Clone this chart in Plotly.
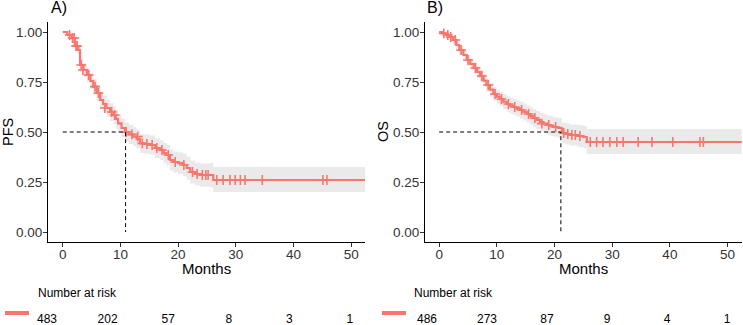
import plotly.graph_objects as go

# ---------------- data ----------------
pfs_t  = [0, 0.8, 1.6, 2.1, 2.7, 3.0, 3.6, 4.2, 4.8, 5.3, 5.9, 6.5, 7.0, 7.6, 8.2, 8.8, 9.2, 9.6, 10.2, 10.8, 11.5, 12.2, 12.8, 13.4, 14.2, 15.1, 16.0, 16.9, 17.5, 18.0, 18.6, 19.2, 20.0, 20.9, 21.5, 22.1, 23.0, 23.8, 25.5, 26.1, 52.4]
pfs_s  = [1.0, 0.985, 0.97, 0.93, 0.91, 0.835, 0.81, 0.785, 0.755, 0.727, 0.695, 0.66, 0.64, 0.62, 0.60, 0.585, 0.565, 0.543, 0.52, 0.50, 0.488, 0.477, 0.465, 0.443, 0.44, 0.435, 0.42, 0.41, 0.395, 0.385, 0.36, 0.35, 0.345, 0.335, 0.32, 0.30, 0.29, 0.285, 0.285, 0.26, 0.26]
pfs_lo = [1.0, 0.975, 0.955, 0.91, 0.885, 0.80, 0.775, 0.748, 0.716, 0.687, 0.654, 0.618, 0.597, 0.576, 0.555, 0.539, 0.518, 0.496, 0.472, 0.452, 0.44, 0.429, 0.417, 0.395, 0.391, 0.386, 0.37, 0.359, 0.344, 0.333, 0.307, 0.296, 0.29, 0.279, 0.263, 0.242, 0.232, 0.226, 0.224, 0.20, 0.20]
pfs_hi = [1.0, 0.995, 0.985, 0.95, 0.935, 0.865, 0.843, 0.82, 0.792, 0.766, 0.735, 0.70, 0.682, 0.663, 0.644, 0.629, 0.61, 0.588, 0.566, 0.547, 0.535, 0.524, 0.513, 0.49, 0.488, 0.483, 0.469, 0.459, 0.445, 0.436, 0.412, 0.403, 0.398, 0.39, 0.376, 0.357, 0.348, 0.343, 0.345, 0.325, 0.325]
pfs_cens_t = [1.2, 1.7, 2.0, 2.3, 2.5, 3.2, 3.5, 4.5, 5.6, 6.2, 7.3, 8.5, 9.0, 11.0, 12.0, 13.0, 13.8, 14.6, 15.5, 16.3, 17.2, 18.3, 19.5, 21.0, 22.5, 23.3, 24.2, 24.8, 25.2, 26.7, 27.8, 29.0, 29.9, 30.8, 31.6, 34.6, 45.1, 45.8]
pfs_cens_s = [0.985, 0.97, 0.97, 0.93, 0.93, 0.835, 0.81, 0.785, 0.727, 0.695, 0.62, 0.60, 0.585, 0.50, 0.488, 0.477, 0.443, 0.44, 0.435, 0.42, 0.41, 0.385, 0.35, 0.335, 0.30, 0.29, 0.285, 0.285, 0.285, 0.26, 0.26, 0.26, 0.26, 0.26, 0.26, 0.26, 0.26, 0.26]
pfs_median = 10.9

os_t  = [0, 0.6, 1.2, 1.8, 2.4, 3.0, 3.5, 4.2, 4.8, 5.4, 6.0, 6.6, 7.1, 7.7, 8.2, 8.8, 9.4, 10.0, 10.5, 11.1, 11.7, 12.3, 12.8, 13.4, 14.0, 14.6, 15.2, 15.8, 16.3, 16.9, 17.5, 18.1, 18.7, 19.3, 19.8, 20.6, 21.3, 22.0, 22.7, 24.0, 25.0, 25.6, 52.45]
os_s  = [1.0, 0.993, 0.985, 0.975, 0.96, 0.935, 0.91, 0.885, 0.86, 0.84, 0.82, 0.80, 0.78, 0.757, 0.735, 0.712, 0.69, 0.677, 0.665, 0.652, 0.64, 0.632, 0.625, 0.618, 0.61, 0.60, 0.59, 0.58, 0.57, 0.56, 0.55, 0.542, 0.535, 0.53, 0.525, 0.52, 0.495, 0.49, 0.485, 0.48, 0.475, 0.45, 0.45]
os_lo = [1.0, 0.988, 0.975, 0.962, 0.944, 0.916, 0.889, 0.862, 0.835, 0.813, 0.792, 0.77, 0.749, 0.725, 0.702, 0.678, 0.655, 0.641, 0.628, 0.614, 0.601, 0.593, 0.585, 0.577, 0.568, 0.558, 0.547, 0.536, 0.526, 0.515, 0.504, 0.495, 0.487, 0.481, 0.476, 0.47, 0.444, 0.438, 0.432, 0.425, 0.419, 0.39, 0.39]
os_hi = [1.0, 0.998, 0.995, 0.988, 0.976, 0.954, 0.931, 0.908, 0.885, 0.867, 0.848, 0.83, 0.811, 0.789, 0.768, 0.746, 0.725, 0.713, 0.702, 0.69, 0.679, 0.671, 0.665, 0.659, 0.652, 0.642, 0.633, 0.624, 0.614, 0.605, 0.596, 0.589, 0.583, 0.579, 0.574, 0.57, 0.546, 0.542, 0.538, 0.535, 0.531, 0.515, 0.515]
os_cens_t = [0.8, 1.5, 2.0, 2.8, 3.8, 5.0, 6.3, 7.4, 8.5, 9.7, 10.8, 12.0, 13.1, 14.3, 15.5, 16.6, 17.8, 19.0, 20.2, 21.6, 22.3, 23.0, 23.6, 24.4, 26.2, 27.3, 28.4, 29.6, 30.8, 31.9, 34.5, 36.9, 40.5, 45.2, 45.8]
os_cens_s = [0.993, 0.985, 0.975, 0.96, 0.91, 0.86, 0.82, 0.78, 0.735, 0.69, 0.665, 0.64, 0.625, 0.61, 0.59, 0.57, 0.542, 0.535, 0.525, 0.495, 0.49, 0.485, 0.485, 0.48, 0.45, 0.45, 0.45, 0.45, 0.45, 0.45, 0.45, 0.45, 0.45, 0.45, 0.45]
os_median = 21.1

risk_times = [0, 10, 20, 30, 40, 50]
pfs_risk = [483, 202, 57, 8, 3, 1]
os_risk = [486, 273, 87, 9, 4, 1]

y_ticks = [0, 0.25, 0.5, 0.75, 1.0]
y_ticktext = ["0.00", "0.25", "0.50", "0.75", "1.00"]
x_ticks = [0, 10, 20, 30, 40, 50]
panel_titles = ["A)", "B)"]
y_titles = ["PFS", "OS"]
x_title = "Months"
risk_title = "Number at risk"

# ---------------- styling ----------------
RED = "#F8766D"
BAND = "rgba(190,190,190,0.32)"
FONT = "Liberation Sans, Arial, sans-serif"
W, H = 743, 325

def px(x):
    return x / W

def py(y):
    return 1 - y / H

fig = go.Figure()

panels = [
    dict(t=pfs_t, s=pfs_s, lo=pfs_lo, hi=pfs_hi, ct=pfs_cens_t, cs=pfs_cens_s, med=pfs_median, risk=pfs_risk,
         xa="x", ya="y", xr="x3", yr="y3"),
    dict(t=os_t, s=os_s, lo=os_lo, hi=os_hi, ct=os_cens_t, cs=os_cens_s, med=os_median, risk=os_risk,
         xa="x2", ya="y2", xr="x4", yr="y4"),
]

for p in panels:
    fig.add_trace(go.Scatter(x=p["t"], y=p["lo"], mode="lines", line=dict(width=0, shape="hv"),
                             xaxis=p["xa"], yaxis=p["ya"], showlegend=False, hoverinfo="skip"))
    fig.add_trace(go.Scatter(x=p["t"], y=p["hi"], mode="lines", line=dict(width=0, shape="hv"),
                             fill="tonexty", fillcolor=BAND,
                             xaxis=p["xa"], yaxis=p["ya"], showlegend=False, hoverinfo="skip"))
    fig.add_trace(go.Scatter(x=p["t"], y=p["s"], mode="lines", line=dict(color=RED, width=2.2, shape="hv"),
                             xaxis=p["xa"], yaxis=p["ya"], showlegend=False))
    fig.add_trace(go.Scatter(x=p["ct"], y=p["cs"], mode="markers",
                             marker=dict(symbol="cross-thin", size=7, line=dict(color=RED, width=1.6)),
                             xaxis=p["xa"], yaxis=p["ya"], showlegend=False))
    # median dashed lines
    fig.add_trace(go.Scatter(x=[0, p["med"], p["med"]], y=[0.5, 0.5, 0], mode="lines",
                             line=dict(color="black", width=1, dash="4px,3px"),
                             xaxis=p["xa"], yaxis=p["ya"], showlegend=False))
    # risk table numbers
    fig.add_trace(go.Scatter(x=risk_times, y=[0.5] * len(risk_times), mode="text",
                             text=[str(v) for v in p["risk"]], cliponaxis=False,
                             textfont=dict(family=FONT, size=12, color="black"),
                             xaxis=p["xr"], yaxis=p["yr"], showlegend=False))

axis_common = dict(showline=True, linecolor="black", linewidth=1, showgrid=False, zeroline=False,
                   ticks="outside", ticklen=4, tickcolor="#333333", tickwidth=1,
                   tickfont=dict(family=FONT, size=13.5, color="#333333"))

dom_a = [px(48), px(365)]
dom_b = [px(425), px(742)]
dom_y = [py(242), py(22)]
dom_r = [0, py(310)]
dom_ra = [0, px(365)]
dom_rb = [px(375), px(742)]

fig.update_layout(
    width=W, height=H, margin=dict(l=0, r=0, t=0, b=0),
    paper_bgcolor="white", plot_bgcolor="white", showlegend=False,
    xaxis=dict(domain=dom_a, range=[-2.55, 52.4], tickvals=x_ticks, anchor="y", ticklabelstandoff=-4, **axis_common),
    yaxis=dict(domain=dom_y, range=[-0.05, 1.05], tickvals=y_ticks, ticktext=y_ticktext, anchor="x",
               ticklabelstandoff=-2, **axis_common),
    xaxis2=dict(domain=dom_b, range=[-2.45, 52.5], tickvals=x_ticks, anchor="y2", ticklabelstandoff=-4, **axis_common),
    yaxis2=dict(domain=dom_y, range=[-0.05, 1.05], tickvals=y_ticks, ticktext=y_ticktext, anchor="x2",
                ticklabelstandoff=-2, **axis_common),
    xaxis3=dict(domain=dom_ra, range=[-7.76, 52.5], visible=False, anchor="y3"),
    yaxis3=dict(domain=dom_r, range=[0, 1.5], visible=False, anchor="x3"),
    xaxis4=dict(domain=dom_rb, range=[-8.67, 52.5], visible=False, anchor="y4"),
    yaxis4=dict(domain=dom_r, range=[0, 1.5], visible=False, anchor="x4"),
)

annotations = []
shapes = []
for i, (x0, risk_x, leg_x0, leg_x1, ytx, xcen) in enumerate([
        (49, 36, 5, 29, 8, (48 + 365) / 2),
        (425, 412, 382, 406, 383, (425 + 742) / 2)]):
    annotations.append(dict(text=panel_titles[i], x=px(x0), y=py(7.5), xref="paper", yref="paper",
                            xanchor="left", yanchor="middle", showarrow=False,
                            font=dict(family=FONT, size=16, color="black")))
    annotations.append(dict(text=y_titles[i], x=px(ytx), y=py(132), xref="paper", yref="paper",
                            xanchor="center", yanchor="middle", showarrow=False, textangle=-90,
                            font=dict(family=FONT, size=14.5, color="black")))
    annotations.append(dict(text=x_title, x=px(xcen), y=py(268), xref="paper", yref="paper",
                            xanchor="center", yanchor="middle", showarrow=False,
                            font=dict(family=FONT, size=15, color="black")))
    annotations.append(dict(text=risk_title, x=px(risk_x), y=py(293), xref="paper", yref="paper",
                            xanchor="left", yanchor="middle", showarrow=False,
                            font=dict(family=FONT, size=12, color="black")))
    shapes.append(dict(type="line", xref="paper", yref="paper", x0=px(leg_x0), x1=px(leg_x1),
                       y0=py(313), y1=py(313), line=dict(color=RED, width=4)))

fig.update_layout(annotations=annotations, shapes=shapes)

fig.write_html("out.html", config={"displayModeBar": False},
               post_script="document.body.style.margin='0px';document.body.style.padding='0px';"
                           "document.body.style.overflow='hidden';")
